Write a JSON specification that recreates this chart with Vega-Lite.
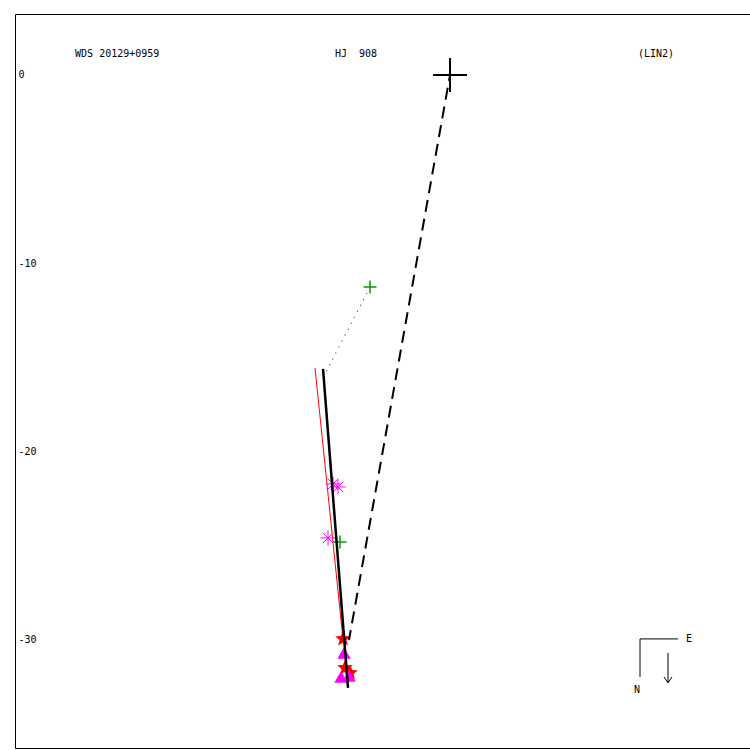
{
  "$schema": "https://vega.github.io/schema/vega-lite/v6.json",
  "width": 735,
  "height": 734,
  "autosize": "none",
  "padding": {"left": 15, "top": 14, "right": 0, "bottom": 2},
  "background": "white",
  "config": {"view": {"stroke": "black", "strokeWidth": 1}},
  "datasets": {
    "segments": [
      {"kind": "orbit", "x": -6.743, "y": -15.61, "x2": -5.416, "y2": -32.55},
      {"kind": "red", "x": -7.168, "y": -15.56, "x2": -5.68, "y2": -30.0},
      {"kind": "dashed", "x": 0, "y": 0, "x2": -5.363, "y2": -30.0},
      {"kind": "dotted", "x": -4.248, "y": -11.257, "x2": -6.584, "y2": -15.77},
      {"kind": "compass", "x": 10.089, "y": -29.947, "x2": 12.106, "y2": -29.947},
      {"kind": "compass", "x": 10.089, "y": -29.947, "x2": 10.089, "y2": -31.965},
      {"kind": "compass", "x": 11.575, "y": -30.691, "x2": 11.575, "y2": -32.284},
      {"kind": "compass", "x": 11.363, "y": -31.965, "x2": 11.575, "y2": -32.284},
      {"kind": "compass", "x": 11.788, "y": -31.965, "x2": 11.575, "y2": -32.284}
    ],
    "points": [
      {"kind": "primary", "x": 0, "y": 0},
      {"kind": "plus", "x": -4.248, "y": -11.257},
      {"kind": "plus", "x": -5.841, "y": -24.797},
      {"kind": "asterisk", "x": -6.212, "y": -21.717},
      {"kind": "asterisk", "x": -5.947, "y": -21.877},
      {"kind": "asterisk", "x": -6.478, "y": -24.584},
      {"kind": "star", "x": -5.681, "y": -29.947},
      {"kind": "star", "x": -5.575, "y": -31.487},
      {"kind": "star", "x": -5.310, "y": -31.753},
      {"kind": "triangle", "x": -5.628, "y": -30.691},
      {"kind": "triangle", "x": -5.788, "y": -31.965},
      {"kind": "triangle", "x": -5.363, "y": -31.912}
    ],
    "labels": [
      {"text": "WDS 20129+0959", "x": -19.91, "y": 1.115},
      {"text": "HJ\u00a0\u00a0908", "x": -6.11, "y": 1.115},
      {"text": "(LIN2)", "x": 9.98, "y": 1.115},
      {"text": "E", "x": 12.531, "y": -29.947},
      {"text": "N", "x": 9.77, "y": -32.655}
    ]
  },
  "encoding": {
    "x": {"field": "x", "type": "quantitative", "scale": {"domain": [-23.1, 15.93], "nice": false, "zero": false}, "axis": null},
    "y": {"field": "y", "type": "quantitative", "scale": {"domain": [-35.74, 3.239], "nice": false, "zero": false},
      "axis": {"values": [0, -10, -20, -30], "labelExpr": "'' + datum.value", "labelAlign": "left", "labelBaseline": "middle", "labelPadding": -3, "ticks": false, "domain": false, "grid": false, "title": null, "labelFont": "DejaVu Sans Mono", "labelFontSize": 10, "labelColor": "black"}}
  },
  "layer": [
    {"data": {"name": "segments"}, "transform": [{"filter": "datum.kind === 'red'"}],
      "mark": {"type": "rule", "color": "#ff0000", "strokeWidth": 1},
      "encoding": {"x2": {"field": "x2"}, "y2": {"field": "y2"}}},
    {"data": {"name": "segments"}, "transform": [{"filter": "datum.kind === 'dotted'"}],
      "mark": {"type": "rule", "color": "#00a000", "strokeWidth": 1.2, "strokeDash": [1.2, 5.5]},
      "encoding": {"x2": {"field": "x2"}, "y2": {"field": "y2"}}},
    {"data": {"name": "points"}, "transform": [{"filter": "datum.kind === 'star'"}],
      "mark": {"type": "point", "shape": "M0,-1L0.265,-0.364L0.951,-0.309L0.428,0.139L0.588,0.809L0,0.45L-0.588,0.809L-0.428,0.139L-0.951,-0.309L-0.265,-0.364Z", "filled": true, "color": "#ff0000", "opacity": 1, "size": 270}},
    {"data": {"name": "points"}, "transform": [{"filter": "datum.kind === 'triangle'"}],
      "mark": {"type": "point", "shape": "triangle-up", "filled": true, "color": "#ff00ff", "opacity": 1, "size": 180}},
    {"data": {"name": "points"}, "transform": [{"filter": "datum.kind === 'asterisk'"}],
      "mark": {"type": "point", "shape": "M-1,0L1,0M0,-1L0,1M-0.7,-0.7L0.7,0.7M-0.7,0.7L0.7,-0.7", "filled": false, "color": "#ff00ff", "opacity": 1, "strokeWidth": 1, "size": 225}},
    {"data": {"name": "points"}, "transform": [{"filter": "datum.kind === 'plus'"}],
      "mark": {"type": "point", "shape": "M-1,0L1,0M0,-1L0,1", "filled": false, "color": "#00a000", "opacity": 1, "strokeWidth": 1.5, "size": 169}},
    {"data": {"name": "segments"}, "transform": [{"filter": "datum.kind === 'orbit'"}],
      "mark": {"type": "rule", "color": "black", "strokeWidth": 2.5},
      "encoding": {"x2": {"field": "x2"}, "y2": {"field": "y2"}}},
    {"data": {"name": "segments"}, "transform": [{"filter": "datum.kind === 'dashed'"}],
      "mark": {"type": "rule", "color": "black", "strokeWidth": 2, "strokeDash": [12, 7], "strokeDashOffset": 6},
      "encoding": {"x2": {"field": "x2"}, "y2": {"field": "y2"}}},
    {"data": {"name": "points"}, "transform": [{"filter": "datum.kind === 'primary'"}],
      "mark": {"type": "point", "shape": "M-1,0L1,0M0,-1L0,1", "filled": false, "color": "black", "opacity": 1, "strokeWidth": 2, "size": 1156}},
    {"data": {"name": "segments"}, "transform": [{"filter": "datum.kind === 'compass'"}],
      "mark": {"type": "rule", "color": "black", "strokeWidth": 1},
      "encoding": {"x2": {"field": "x2"}, "y2": {"field": "y2"}}},
    {"data": {"name": "labels"},
      "mark": {"type": "text", "align": "left", "baseline": "middle", "font": "DejaVu Sans Mono", "fontSize": 10, "color": "black"},
      "encoding": {"text": {"field": "text"}}}
  ]
}
